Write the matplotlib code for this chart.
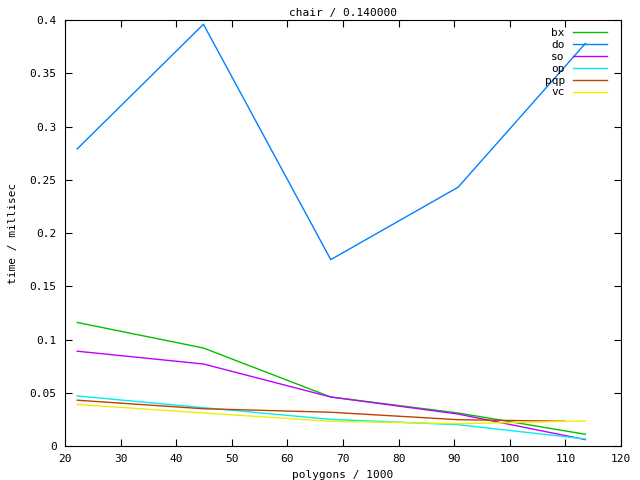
import matplotlib
matplotlib.use("Agg")
import matplotlib.pyplot as plt

x = [22.2, 44.9, 67.8, 90.7, 113.6]
x_pqp = [22.2, 44.9, 67.8, 90.7, 110.0]
bx = [0.116, 0.092, 0.046, 0.031, 0.011]
do = [0.279, 0.396, 0.175, 0.243, 0.378]
so = [0.089, 0.077, 0.046, 0.030, 0.006]
op = [0.047, 0.036, 0.025, 0.020, 0.0066]
pqp = [0.043, 0.035, 0.0317, 0.0247, 0.0232]
vc = [0.039, 0.031, 0.0232, 0.021, 0.0235]

series = [
    ("bx", x, bx, "#00c000"),
    ("do", x, do, "#0080ff"),
    ("so", x, so, "#c000ff"),
    ("op", x, op, "#00eeee"),
    ("pqp", x_pqp, pqp, "#c04000"),
    ("vc", x, vc, "#eeee00"),
]

plt.rcParams['font.family'] = ['DejaVu Sans Mono']
L, R, T, B = 65, 621, 20, 446
fig = plt.figure(figsize=(6.4, 4.8), dpi=100)
ax = fig.add_axes([L/640, (480-B)/480, (R-L)/640, (B-T)/480])
for name, xs, ys, c in series:
    ax.plot(xs, ys, color=c, lw=1, label=name)

ax.set_xlim(20, 120)
ax.set_ylim(0, 0.4)
ax.set_xticks(range(20, 121, 10))
ax.set_yticks([0, 0.05, 0.1, 0.15, 0.2, 0.25, 0.3, 0.35, 0.4])
ax.set_yticklabels(["0", "0.05", "0.1", "0.15", "0.2", "0.25", "0.3", "0.35", "0.4"])
ax.tick_params(direction="in", top=True, right=True, labelsize=8, length=5, width=0.8)
ax.tick_params(axis="y", pad=6)
ax.tick_params(axis="x", pad=5.5)
for s in ax.spines.values():
    s.set_linewidth(0.8)
ax.set_title("chair / 0.140000", fontsize=8, pad=3)
ax.set_xlabel("polygons / 1000", fontsize=8, labelpad=4.5)
ax.set_ylabel("time / millisec", fontsize=8, labelpad=8.5)
ax.legend(loc="upper right", frameon=False, markerfirst=False, fontsize=8,
          handlelength=3.1, labelspacing=0.17, borderaxespad=0, borderpad=0,
          handletextpad=0.7,
          bbox_to_anchor=((607 - L)/(R - L), 1 - 8/(B - T)))
fig.savefig("out.png", dpi=100)
